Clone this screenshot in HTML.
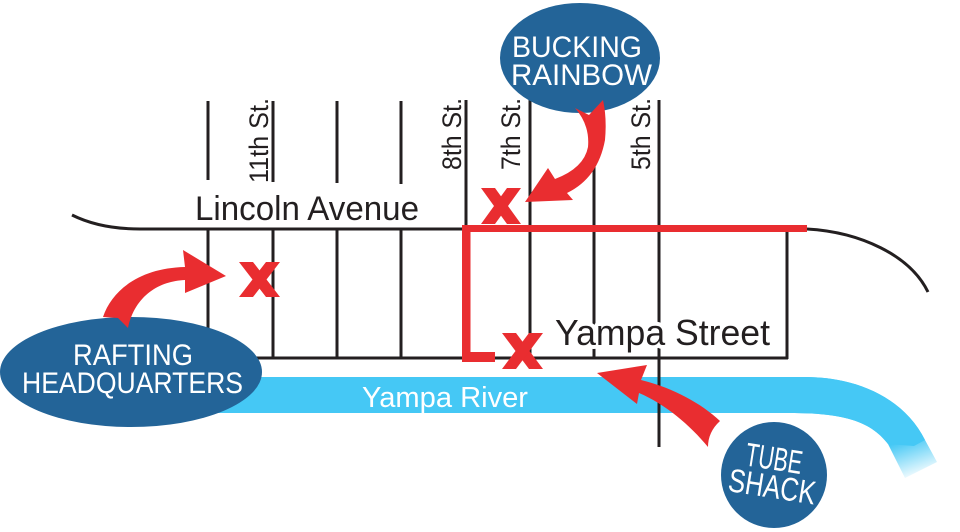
<!DOCTYPE html>
<html><head><meta charset="utf-8"><style>
html,body{margin:0;padding:0;background:#fff;}
svg{display:block;}
text{font-family:"Liberation Sans",Arial,sans-serif;}
</style></head><body>
<svg width="960" height="532" viewBox="0 0 960 532" xmlns="http://www.w3.org/2000/svg">
<defs>
<linearGradient id="fade" gradientUnits="userSpaceOnUse" x1="905" y1="440" x2="918" y2="478">
<stop offset="0" stop-color="#45c8f5" stop-opacity="1"/>
<stop offset="1" stop-color="#45c8f5" stop-opacity="0"/>
</linearGradient>
</defs>
<rect width="960" height="532" fill="#fff"/>

<!-- River -->
<path d="M200 377 L805 377 C860 377 905 400 925 440 L937 462 L905 478 L888 444 C870 420 840 413 790 413 L200 413 Z" fill="url(#fade)"/>
<path d="M200 377 L805 377 C860 377 905 400 925 440 L914 446 L888 444 C870 420 840 413 790 413 L200 413 Z" fill="#45c8f5"/>

<!-- Black streets -->
<g stroke="#231f20" stroke-width="3" fill="none">
<path d="M72 215 Q100 229 140 229 L465 229"/>
<path d="M807 229 C860 232 910 255 928 292"/>
<line x1="208" y1="101" x2="208" y2="180"/>
<line x1="273" y1="101" x2="273" y2="182"/>
<line x1="337" y1="101" x2="337" y2="183"/>
<line x1="401" y1="101" x2="401" y2="184"/>
<line x1="466" y1="100" x2="466" y2="229"/>
<line x1="530" y1="100" x2="530" y2="358"/>
<line x1="594" y1="100" x2="594" y2="358"/>
<line x1="659" y1="100" x2="659" y2="447"/>
<line x1="208" y1="229" x2="208" y2="358"/>
<line x1="273" y1="229" x2="273" y2="358"/>
<line x1="337" y1="229" x2="337" y2="358"/>
<line x1="401" y1="229" x2="401" y2="358"/>
<line x1="787" y1="229" x2="787" y2="359"/>
<line x1="245" y1="358" x2="788" y2="358"/>
</g>

<!-- Street names -->
<g fill="#231f20" font-size="27">
<text transform="translate(268,183) rotate(-90)" textLength="85" lengthAdjust="spacingAndGlyphs">11th St.</text>
<text transform="translate(461,170) rotate(-90)" textLength="72" lengthAdjust="spacingAndGlyphs">8th St.</text>
<text transform="translate(520,170) rotate(-90)" textLength="72" lengthAdjust="spacingAndGlyphs">7th St.</text>
<text transform="translate(650,170) rotate(-90)" textLength="72" lengthAdjust="spacingAndGlyphs">5th St.</text>
</g>
<text x="195" y="220" font-size="34" fill="#231f20" textLength="224" lengthAdjust="spacingAndGlyphs">Lincoln Avenue</text>
<text x="555" y="345" font-size="36" fill="#231f20" stroke="#fff" stroke-width="8" stroke-linejoin="round" paint-order="stroke" textLength="215" lengthAdjust="spacingAndGlyphs">Yampa Street</text>
<text x="362" y="407" font-size="29" fill="#fff" textLength="166" lengthAdjust="spacingAndGlyphs">Yampa River</text>

<!-- Red route -->
<g fill="#e92d30">
<rect x="462" y="225" width="345" height="7"/>
<rect x="462" y="225" width="8.5" height="137"/>
<rect x="462" y="352" width="33" height="10"/>
</g>

<!-- X marks -->
<g fill="#e92d30">
<polygon points="239,262 253,262 280,297 266,297"/><polygon points="266,262 280,262 253,297 239,297"/>
<polygon points="481,188 495,188 521,224 507,224"/><polygon points="507,188 521,188 495,224 481,224"/>
<polygon points="502,333 516,333 543,369 529,369"/><polygon points="529,333 543,333 516,369 502,369"/>
</g>

<!-- Bubbles -->
<g fill="#236498">
<ellipse cx="580" cy="58" rx="80" ry="55"/>
<ellipse cx="131" cy="372" rx="131" ry="55"/>
<circle cx="774" cy="475" r="53"/>
</g>

<!-- Arrows -->
<g fill="#e92d30">
<path d="M103 317 C112 290 140 268 185 267 L183 250 L226 276 L185 293 L185 280 C160 281 135 295 128 328 L118 318 Z"/>
<path d="M575 108 Q590 125 588 147 Q584 168 555 179 L548 168 L525 202 L573 200 L567 193 Q598 178 605 140 Q607 118 603 100 L589 115 Z"/>
<path d="M597 373 L647 365 L641 380 C670 387 700 402 720 421 Q708 432 708 447 C690 425 665 404 639 393 L637 404 Z"/>
</g>

<!-- Bubble text -->
<g fill="#fff" font-size="30">
<text x="512" y="57" textLength="130" lengthAdjust="spacingAndGlyphs">BUCKING</text>
<text x="511" y="85" textLength="141" lengthAdjust="spacingAndGlyphs">RAINBOW</text>
<text x="73" y="365" textLength="120" lengthAdjust="spacingAndGlyphs">RAFTING</text>
<text x="22" y="393" textLength="221" lengthAdjust="spacingAndGlyphs">HEADQUARTERS</text>
<g transform="rotate(9 774 475)" font-size="33">
<text x="743" y="470" textLength="57" lengthAdjust="spacingAndGlyphs">TUBE</text>
<text x="730" y="498" textLength="88" lengthAdjust="spacingAndGlyphs">SHACK</text>
</g>
</g>
</svg>
</body></html>
